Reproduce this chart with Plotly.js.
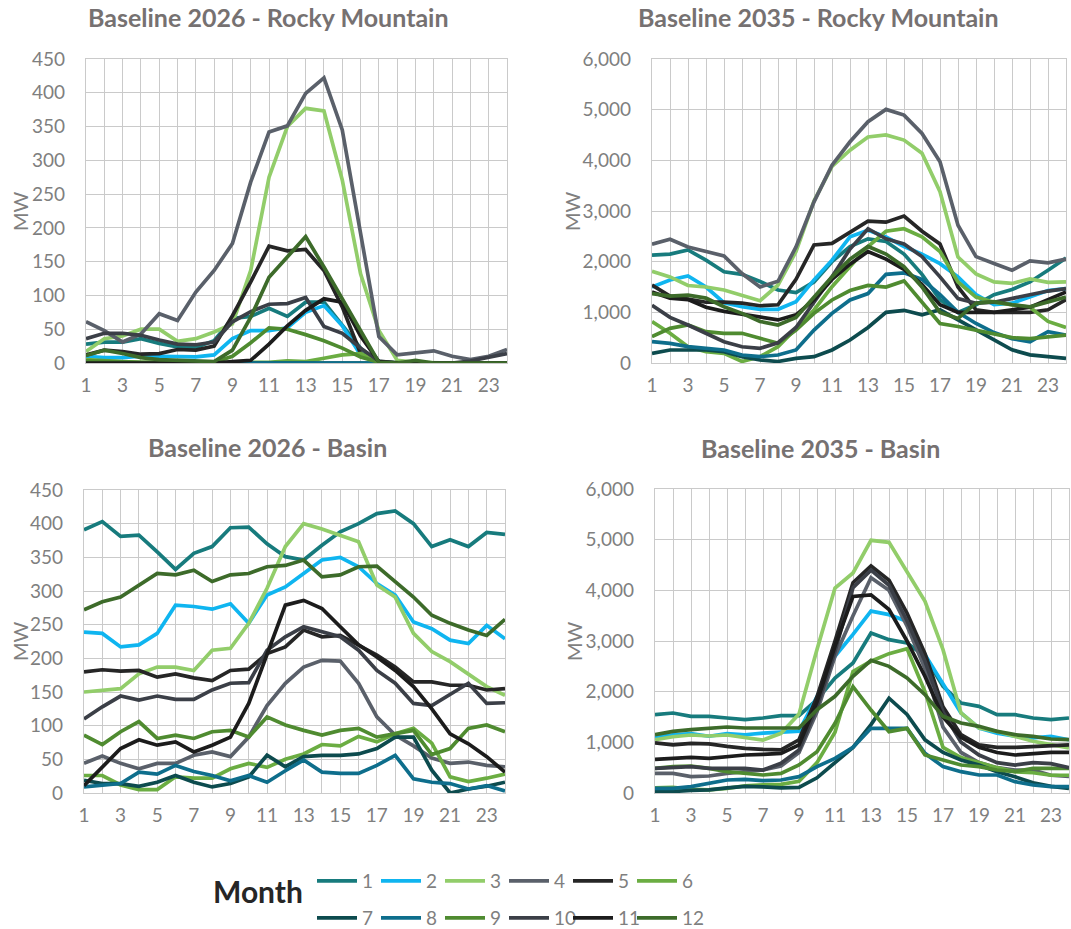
<!DOCTYPE html>
<html>
<head>
<meta charset="utf-8">
<script src="https://cdn.plot.ly/plotly-3.0.1.min.js"></script>
<style>html,body{margin:0;padding:0;background:#fff;overflow:hidden;}#chart{width:1071px;height:929px;}</style>
</head>
<body>
<div id="chart"></div>
<script>
// ---------- DATA ----------
const hours = [1,2,3,4,5,6,7,8,9,10,11,12,13,14,15,16,17,18,19,20,21,22,23,24];
const hourTicks = [1,3,5,7,9,11,13,15,17,19,21,23];
const months = ['1','2','3','4','5','6','7','8','9','10','11','12'];
const panelTitles = ['Baseline 2026 - Rocky Mountain','Baseline 2035 - Rocky Mountain','Baseline 2026 - Basin','Baseline 2035 - Basin'];
const yTitle = 'MW';
const legendTitle = 'Month';

// Baseline 2026 - Rocky Mountain (rows = months 1..12)
const rm2026 = [
  [28,31,31,36,29,24,23,33,66,69,81,69,90,90,56,22,1,0,0,0,0,0,0,0],
  [10,8,8,10,10,9,9,12,36,48,48,52,75,85,55,12,2,0,0,0,0,0,0,0],
  [17,36,40,50,50,32,36,46,58,137,275,350,377,373,271,132,48,4,1,0,0,0,0,0],
  [61,48,31,43,73,63,105,137,177,268,342,351,399,422,345,190,39,12,15,18,10,5,10,20],
  [12,19,17,13,14,20,19,25,70,120,173,166,168,137,83,14,1,0,0,0,0,0,0,0],
  [5,3,2,1,1,0,0,0,0,0,1,3,2,7,12,14,2,0,0,0,0,0,0,0],
  [0,0,0,0,0,0,0,0,0,0,0,0,0,0,0,0,0,0,0,0,0,0,0,0],
  [0,0,0,0,0,0,0,0,0,0,0,0,0,0,0,0,0,0,0,0,0,0,0,0],
  [3,2,1,1,1,1,1,1,10,30,52,50,42,33,22,9,1,0,0,0,0,0,0,0],
  [36,44,44,41,34,28,27,31,61,76,87,88,97,54,44,22,3,0,0,0,0,3,8,14],
  [0,0,0,0,0,0,0,0,2,4,28,55,78,95,90,40,2,0,0,0,0,0,0,0],
  [11,19,14,8,5,4,3,2,19,68,127,157,187,142,95,48,1,0,4,0,0,0,0,0]
];
// Baseline 2035 - Rocky Mountain
const rm2035 = [
  [2130,2150,2230,2030,1800,1750,1610,1440,1390,1600,2000,2300,2450,2400,2150,1750,1250,1000,1150,1350,1450,1600,1830,2070],
  [1500,1640,1720,1500,1190,1110,1060,1060,1210,1640,2030,2490,2620,2490,2300,2150,1960,1700,1350,1150,1180,1300,1430,1470],
  [1810,1700,1530,1500,1440,1330,1230,1540,2200,3200,3880,4200,4460,4500,4400,4140,3380,2090,1760,1600,1570,1660,1590,1600],
  [2345,2443,2290,2206,2114,1765,1500,1613,2290,3181,3905,4366,4762,5005,4893,4531,3970,2720,2100,1962,1830,2015,1975,2050],
  [1540,1320,1260,1200,1200,1180,1130,1150,1650,2330,2360,2590,2800,2780,2900,2600,2350,1500,1050,1000,1000,1000,1050,1250],
  [816,586,322,224,191,30,125,322,684,1046,1507,1900,2300,2600,2650,2490,2200,1600,1300,1200,1150,1100,820,700],
  [191,257,257,257,224,125,59,30,92,125,257,454,700,1000,1040,950,1050,850,650,450,260,160,120,90],
  [421,388,322,290,257,158,125,158,257,651,980,1244,1370,1750,1780,1650,1350,1000,780,600,480,420,620,550],
  [520,684,750,619,586,586,487,388,651,980,1244,1430,1530,1500,1620,1200,780,720,650,580,500,480,520,550],
  [1140,900,750,580,420,320,290,400,700,1200,1700,2250,2650,2450,2350,2100,1700,1270,1180,1200,1270,1340,1420,1470],
  [1400,1280,1250,1100,1020,960,900,850,950,1250,1650,1950,2200,2050,1850,1550,1150,1000,1000,1000,1050,1100,1250,1400],
  [1370,1320,1340,1280,1110,980,820,750,900,1300,1700,2050,2300,2150,1900,1500,1000,880,1180,1210,1150,1110,1210,1300]
];
// Baseline 2026 - Basin
const basin2026 = [
  [391,403,381,383,358,332,356,366,394,395,370,351,346,368,388,400,415,419,400,366,376,366,387,384],
  [239,237,217,220,237,279,277,273,281,252,294,306,326,346,350,336,311,294,254,244,227,222,249,229],
  [150,153,155,177,187,187,182,212,215,252,304,366,400,392,383,373,309,291,237,210,195,177,158,145],
  [44,55,44,36,44,44,56,61,54,83,130,163,187,197,196,163,113,86,70,52,44,46,41,39],
  [180,183,181,182,172,177,171,167,182,184,207,217,242,232,234,220,205,187,165,165,160,160,153,155],
  [26,26,12,5,5,24,22,22,36,44,38,50,58,72,70,84,76,88,96,74,24,17,22,28],
  [19,14,14,10,16,26,16,9,14,24,56,39,54,56,56,58,66,83,83,34,0,6,10,16],
  [9,11,14,31,28,41,32,26,18,26,16,33,49,31,29,29,41,56,21,16,14,6,11,3],
  [86,72,91,106,81,86,81,91,93,83,113,101,93,86,93,96,83,88,93,57,66,96,101,91],
  [110,128,144,138,144,139,139,153,163,164,212,232,247,239,232,212,182,163,133,130,147,163,133,134],
  [11,39,66,79,71,76,61,71,83,133,205,279,286,274,247,220,202,182,158,125,88,73,54,31],
  [272,284,291,309,326,324,331,314,324,326,336,338,346,321,324,336,337,314,291,264,252,242,234,258]
];
// Baseline 2035 - Basin
const basin2035 = [
  [1546,1579,1513,1513,1480,1447,1480,1526,1526,1842,2270,2566,3158,3026,2961,2697,2105,1776,1711,1546,1546,1480,1447,1480],
  [1100,1150,1170,1120,1170,1150,1180,1200,1220,1900,2700,3130,3590,3520,3390,2730,2170,1580,1280,1180,1120,1090,1120,1050],
  [1050,1110,1145,1125,1145,1090,1046,1178,1560,2830,4046,4342,4987,4947,4375,3783,2829,1579,1283,1217,1118,1020,954,888],
  [388,388,322,336,388,421,454,533,800,1600,2700,3500,4250,4000,3300,2450,1300,800,600,500,450,450,350,330],
  [990,950,980,970,920,880,860,850,1050,1900,3000,4150,4480,4200,3550,2750,1700,1150,950,900,900,920,930,950],
  [100,110,70,60,90,140,160,170,230,600,1200,2400,2600,2750,2850,2000,900,700,600,500,420,400,350,350],
  [30,30,50,60,100,130,120,100,110,300,600,900,1350,1870,1550,1050,800,650,550,420,320,200,130,90],
  [92,92,125,190,257,270,243,257,322,520,684,901,1276,1276,1276,783,520,421,355,355,224,158,125,125],
  [487,520,533,487,421,388,355,388,553,816,1375,2099,1638,1211,1276,750,651,553,520,454,421,487,487,487],
  [487,507,520,487,487,487,454,586,850,1700,2800,4050,4400,4100,3400,2600,1600,1000,750,600,550,600,580,500],
  [665,684,704,684,717,750,763,783,950,1800,2900,3880,3910,3620,3000,2300,1500,1100,900,800,750,780,800,800],
  [1151,1217,1250,1283,1303,1283,1283,1283,1283,1645,1908,2303,2618,2500,2270,1941,1513,1382,1316,1217,1151,1118,1066,1053]
];

// ---------- STYLE ----------
const colors = ['#177B7D','#0FB5F0','#92CD6A','#5A606A','#262626','#6BAD42',
                '#0D4B4E','#0E6E8C','#4F8B30','#3B3F47','#1C1C1C','#3D6B2A'];
const W = 1071, H = 929;
const FONT = 'Lato, "Open Sans", sans-serif';
const GRAY = '#7f7f7f';
const GRID = '#cacaca';
const px = v => v / W;
const py = v => 1 - v / H;

const panels = [rm2026, rm2035, basin2026, basin2035];
// pixel boxes [left, right, top, bottom]
const boxes = [[86,507,59,363],[652,1066,59,363],[84,505,490,793],[655,1069,489,793]];
const yMax = [450, 6000, 450, 6000];
const yStep = [50, 1000, 50, 1000];

const traces = [];
panels.forEach((panel, p) => {
  panel.forEach((vals, m) => {
    traces.push({
      x: hours, y: vals, type: 'scatter', mode: 'lines',
      name: months[m],
      xaxis: p === 0 ? 'x' : 'x' + (p + 1),
      yaxis: p === 0 ? 'y' : 'y' + (p + 1),
      line: {color: colors[m], width: 3.7},
      showlegend: p === 0,
      legend: m < 6 ? 'legend' : 'legend2',
      hovertemplate: 'Hour %{x}: %{y:,} MW<extra>Month ' + months[m] + '</extra>'
    });
  });
});

const legendBase = {
  orientation: 'h', xanchor: 'left', yanchor: 'middle', xref: 'container', yref: 'container',
  entrywidth: 9, entrywidthmode: 'pixels', itemwidth: 40,
  font: {family: FONT, size: 19, color: GRAY}, bgcolor: 'rgba(0,0,0,0)', traceorder: 'normal'
};

const layout = {
  width: W, height: H,
  margin: {l: 0, r: 0, t: 0, b: 0, autoexpand: false},
  paper_bgcolor: '#fff', plot_bgcolor: '#fff',
  font: {family: FONT, color: GRAY, size: 19},
  annotations: [],
  legend: Object.assign({}, legendBase, {x: px(312), y: py(881)}),
  legend2: Object.assign({}, legendBase, {x: px(312), y: py(918)})
};

boxes.forEach((b, p) => {
  const sfx = p === 0 ? '' : String(p + 1);
  layout['xaxis' + sfx] = {
    domain: [px(b[0]), px(b[1])], anchor: 'y' + sfx,
    range: [1, 24], tickmode: 'array', tickvals: hourTicks, ticktext: hourTicks.map(String),
    showgrid: true, gridcolor: GRID, gridwidth: 1.4,
    minor: {tickmode: 'array', tickvals: hours, showgrid: true, gridcolor: GRID, gridwidth: 1.4},
    showline: true, mirror: true, linecolor: GRID, linewidth: 1.4,
    zeroline: false, ticks: '', ticklabelstandoff: 5,
    tickfont: {family: FONT, size: 19, color: GRAY}, fixedrange: true
  };
  layout['yaxis' + sfx] = {
    domain: [py(b[3]), py(b[2])], anchor: 'x' + sfx,
    range: [0, yMax[p]], dtick: yStep[p], tick0: 0, tickformat: ',d',
    showgrid: true, gridcolor: GRID, gridwidth: 1.4,
    showline: true, mirror: true, linecolor: GRID, linewidth: 1.4,
    zeroline: false, ticks: '', ticklabelstandoff: 16,
    tickfont: {family: FONT, size: 19, color: GRAY}, fixedrange: true
  };
});

// panel titles
const titlePos = [[268,17],[818,17],[267,447],[820,448]];
titlePos.forEach((t, i) => {
  layout.annotations.push({
    text: '<b>' + panelTitles[i] + '</b>', xref: 'paper', yref: 'paper',
    x: px(t[0]), y: py(t[1]), xanchor: 'center', yanchor: 'middle', showarrow: false,
    font: {family: FONT, size: 25, color: '#767171'}
  });
});
// y axis titles
const mwPos = [[20,211],[572,211],[20,641],[574,641]];
mwPos.forEach(t => {
  layout.annotations.push({
    text: yTitle, xref: 'paper', yref: 'paper', x: px(t[0]), y: py(t[1]),
    xanchor: 'center', yanchor: 'middle', textangle: -90, showarrow: false,
    font: {family: FONT, size: 20, color: GRAY}
  });
});
// legend title
layout.annotations.push({
  text: '<b>' + legendTitle + '</b>', xref: 'paper', yref: 'paper', x: px(258), y: py(891),
  xanchor: 'center', yanchor: 'middle', showarrow: false,
  font: {family: FONT, size: 30, color: '#262626'}
});

function unclipLegends() {
  document.querySelectorAll('#chart .infolayer .scrollbox').forEach(el => {
    el.removeAttribute('clip-path');
    el.style.clipPath = 'none';
  });
}
const gd = document.getElementById('chart');
Plotly.newPlot(gd, traces, layout, {displayModeBar: false}).then(() => {
  unclipLegends();
  gd.on('plotly_afterplot', unclipLegends);
});
</script>
</body>
</html>
